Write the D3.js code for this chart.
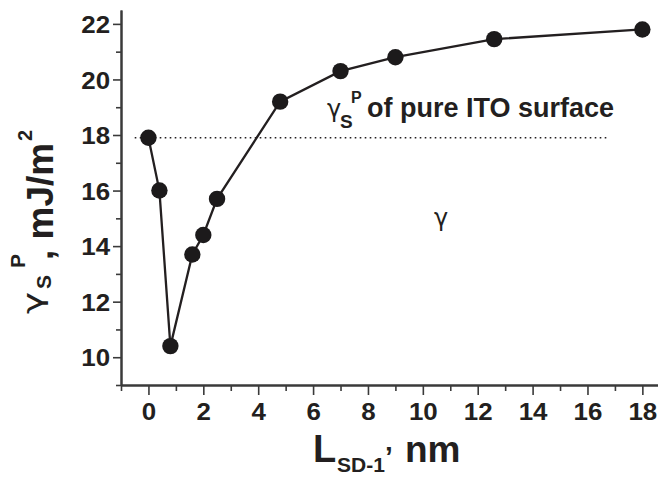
<!DOCTYPE html>
<html>
<head>
<meta charset="utf-8">
<script src="https://cdn.jsdelivr.net/npm/d3@7/dist/d3.min.js"></script>
<style>
  html, body { margin: 0; padding: 0; background: #fff; }
  svg { display: block; font-family: "Liberation Sans", Arial, sans-serif; }
  .greek { font-family: "DejaVu Sans", sans-serif; }
</style>
</head>
<body>
<svg id="chart" width="658" height="477"></svg>
<script>
// Polar component of surface energy vs. SD-1 layer thickness
const thickness = [0, 0.4, 0.8, 1.6, 2.0, 2.5, 4.8, 7.0, 9.0, 12.6, 18.0];
const polarEnergy = [17.9, 16.0, 10.4, 13.7, 14.4, 15.7, 19.2, 20.3, 20.8, 21.45, 21.8];

// Reference level: polar component of bare ITO
const itoLevel = 17.9;
const itoSpan = [-0.5, 16.8];

const xMajorTicks = [0, 2, 4, 6, 8, 10, 12, 14, 16, 18];
const xMinorTicks = [-1, 1, 3, 5, 7, 9, 11, 13, 15, 17];
const xTickLabels = ["0", "2", "4", "6", "8", "10", "12", "14", "16", "18"];
const yMajorTicks = [10, 12, 14, 16, 18, 20, 22];
const yMinorTicks = [9, 11, 13, 15, 17, 19, 21];
const yTickLabels = ["10", "12", "14", "16", "18", "20", "22"];

const ink = "#231f20";
const axisInk = "#3a3a3a";

const svg = d3.select("#chart");

const x = d3.scaleLinear().domain([-1, 18.57]).range([121, 658]);
const y = d3.scaleLinear().domain([9, 22.5]).range([385, 10]);

// ---- axes ----
function styleAxis(g) {
  g.select(".domain").attr("stroke", axisInk).attr("stroke-width", 2);
  g.selectAll(".tick line").attr("stroke", axisInk).attr("stroke-width", 1.6);
}

svg.append("g").attr("transform", `translate(0,${y(9)})`)
  .call(d3.axisBottom(x).tickValues(xMinorTicks).tickSize(6).tickSizeOuter(0).tickFormat(""))
  .call(styleAxis);

const xMajor = svg.append("g").attr("transform", `translate(0,${y(9)})`)
  .call(d3.axisBottom(x).tickValues(xMajorTicks).tickSize(10).tickSizeOuter(0)
    .tickFormat((d, i) => xTickLabels[i]))
  .call(styleAxis);
xMajor.selectAll(".tick text")
  .attr("y", 35).attr("dy", 0)
  .attr("transform", "scale(1.08,1)")
  .attr("fill", ink)
  .style("font-size", "24px").style("font-weight", "bold");

svg.append("g").attr("transform", `translate(${x(-1)},0)`)
  .call(d3.axisLeft(y).tickValues(yMinorTicks).tickSize(5).tickSizeOuter(0).tickFormat(""))
  .call(styleAxis);

const yMajor = svg.append("g").attr("transform", `translate(${x(-1)},0)`)
  .call(d3.axisLeft(y).tickValues(yMajorTicks).tickSize(8).tickSizeOuter(0)
    .tickFormat((d, i) => yTickLabels[i]))
  .call(styleAxis);
yMajor.selectAll(".tick text")
  .attr("x", -10).attr("dy", "0.36em")
  .attr("transform", "scale(1.08,1)")
  .attr("fill", ink)
  .style("font-size", "24px").style("font-weight", "bold");

// ---- reference dotted line ----
svg.append("line")
  .attr("x1", x(itoSpan[0])).attr("x2", x(itoSpan[1]))
  .attr("y1", y(itoLevel)).attr("y2", y(itoLevel))
  .attr("stroke", ink).attr("stroke-width", 1.6)
  .attr("stroke-dasharray", "1.6,3.4");

// ---- data line + markers ----
const pts = thickness.map((t, i) => ({ t, v: polarEnergy[i] }));

svg.append("path")
  .datum(pts)
  .attr("fill", "none")
  .attr("stroke", ink)
  .attr("stroke-width", 2.3)
  .attr("d", d3.line().x(d => x(d.t)).y(d => y(d.v)));

svg.append("g").selectAll("circle")
  .data(pts)
  .join("circle")
  .attr("cx", d => x(d.t))
  .attr("cy", d => y(d.v))
  .attr("r", 8.2)
  .attr("fill", "#1c1a1b");

// ---- annotations ----
const note = svg.append("g").attr("fill", ink);
note.append("text").attr("class", "greek").attr("x", 327).attr("y", 117)
  .style("font-size", "24px").text("γ");
note.append("text").attr("x", 340).attr("y", 128)
  .style("font-size", "19px").style("font-weight", "bold").text("S");
note.append("text").attr("x", 351).attr("y", 103)
  .style("font-size", "16px").style("font-weight", "bold").text("P");
note.append("text").attr("x", 367).attr("y", 116.5)
  .style("font-size", "27px").style("font-weight", "bold").text("of pure ITO surface");

note.append("text").attr("class", "greek").attr("x", 434).attr("y", 226)
  .style("font-size", "24px").text("γ");

// ---- x axis title ----
const xt = svg.append("g").attr("fill", ink).style("font-weight", "bold");
xt.append("text").attr("x", 313).attr("y", 461.5).style("font-size", "38px").text("L");
xt.append("text").attr("x", 337).attr("y", 472).style("font-size", "21px").text("SD-1");
xt.append("text").attr("x", 385).attr("y", 466).style("font-size", "28px").text("’");
xt.append("text").attr("x", 405).attr("y", 461.5).style("font-size", "37px").text("nm");

// ---- y axis title (rotated, reads bottom to top) ----
const yt = svg.append("g").attr("fill", ink).attr("transform", "rotate(-90)");
yt.append("text").attr("class", "greek").attr("x", -314).attr("y", 42)
  .style("font-size", "26px").attr("textLength", 22).attr("lengthAdjust", "spacingAndGlyphs").text("γ");
yt.append("text").attr("x", -289).attr("y", 51)
  .style("font-size", "21px").style("font-weight", "bold").text("S");
yt.append("text").attr("x", -268).attr("y", 25)
  .style("font-size", "21px").style("font-weight", "bold").text("P");
yt.append("text").attr("x", -260).attr("y", 53)
  .style("font-size", "37px").style("font-weight", "bold").text(", mJ/m");
yt.append("text").attr("x", -141).attr("y", 32)
  .style("font-size", "20px").style("font-weight", "bold").text("2");
</script>
</body>
</html>
